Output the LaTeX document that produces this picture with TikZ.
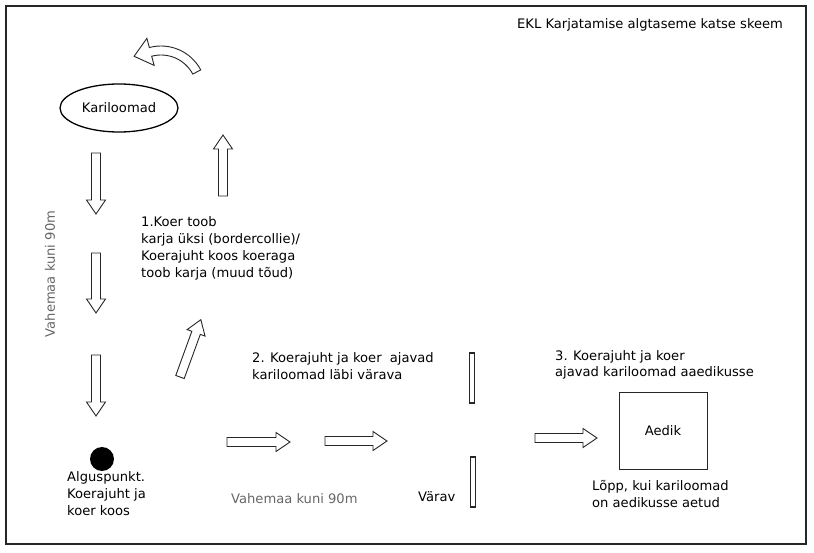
\documentclass[tikz,border=0pt]{standalone}
\usepackage{fontspec}
\setmainfont{DejaVu Sans}
\usetikzlibrary{shapes.geometric,calc}
\newcommand\barw[4]{%
  \begin{scope}[shift={(#1,#2)},rotate=#3]
    \draw[arrowline] (0,-4.5) -- ({#4-14},-4.5) -- ({#4-14},-9.5) -- (#4,0)
      -- ({#4-14},9.5) -- ({#4-14},4.5) -- (0,4.5) -- cycle;
  \end{scope}}
\begin{document}
\begin{tikzpicture}[x=1pt,y=-1pt,
  txt/.style={font=\fontsize{13.1}{17}\selectfont, inner sep=0pt, align=left, anchor=base west},
  ctxt/.style={font=\fontsize{13.1}{17}\selectfont, inner sep=0pt},
  graytxt/.style={txt, text=black!60},
  arrowline/.style={draw=black!85, line width=0.9pt, line join=miter},
  gate/.style={draw=black!85, line width=1.2pt}]
\useasboundingbox (0,0) rectangle (814,553);
\draw[line width=2pt, draw=black!85] (6,6) rectangle (806,544);

% title
\node[txt] (title) at (517,28.5) {EKL Karjatamise algtaseme katse skeem};

% herd ellipse
\node[draw, ellipse, line width=1.3pt, minimum width=118pt, minimum height=48pt, ctxt] (herd) at (119,108) {Kariloomad};

% curved arrow
\coordinate (cc) at (161,91);
\draw[arrowline] ($(cc)+(332:45)$) arc[start angle=332, end angle=255, radius=45]
  -- ($(cc)+(255:54.5)$) -- ($(cc)+(255:40.5)+(165:17)$) -- ($(cc)+(255:26.5)$)
  -- ($(cc)+(255:36)$) arc[start angle=255, end angle=332, radius=36] -- cycle;

% block arrows
\barw{96}{153}{-90}{61}
\barw{96}{253}{-90}{60}
\barw{96}{355}{-90}{61}
\barw{223}{196}{90}{61}
\barw{180}{377}{70}{61}
\barw{227}{442}{0}{63}
\barw{325}{441}{0}{62}
\barw{535}{438}{0}{62}

% vertical distance label
\node[ctxt, text=black!60, rotate=90] (dist1) at (50,274) {Vahemaa kuni 90m};

% step 1 (anchored at the baseline of its last line)
\node[txt] (step1) at (141,278) {1.Koer toob\\karja üksi (bordercollie)/\\Koerajuht koos koeraga\\toob karja (muud tõud)};

% step 2
\node[txt] (step2) at (252,379) {2. Koerajuht ja koer \ ajavad\\kariloomad läbi värava};

% step 3
\node[txt] (step3) at (555,377) {3. Koerajuht ja koer\\ajavad kariloomad aaedikusse};

% gate
\node[gate, minimum width=5pt, minimum height=50pt, inner sep=0pt] (gatetop) at (472,378) {};
\node[gate, minimum width=5pt, minimum height=50pt, inner sep=0pt] (gatebot) at (473,482) {};
\node[txt] (varav) at (418,501) {Värav};

% start point
\node[circle, fill=black, minimum size=24pt, inner sep=0pt] (start) at (102,459) {};
\node[txt] (startlbl) at (67,515) {Alguspunkt.\\Koerajuht ja\\koer koos};

% horizontal distance
\node[graytxt] (dist2) at (231,503) {Vahemaa kuni 90m};

% pen
\node[draw=black!85, line width=1pt, minimum width=88pt, minimum height=77pt, ctxt] (pen) at (663,430.5) {Aedik};
\node[txt] (endlbl) at (592,507) {Lõpp, kui kariloomad\\on aedikusse aetud};
\end{tikzpicture}
\end{document}
